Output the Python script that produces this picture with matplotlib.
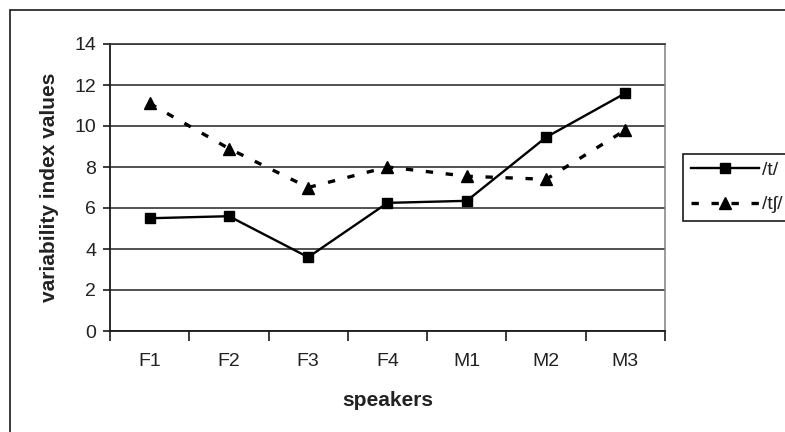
import numpy as np
import matplotlib
matplotlib.use("Agg")
import matplotlib.pyplot as plt
import matplotlib.patches as mpatches

plt.rcParams["font.family"] = ["Liberation Sans", "DejaVu Sans"]

speakers = ["F1", "F2", "F3", "F4", "M1", "M2", "M3"]
t_vals = [5.5, 5.6, 3.6, 6.25, 6.35, 9.45, 11.6]
tsh_vals = [11.1, 8.9, 7.0, 8.0, 7.55, 7.4, 9.8]
y_ticks = [0, 2, 4, 6, 8, 10, 12, 14]

TXT = "#222222"
W, H = 785, 432


def main():
    fig = plt.figure(figsize=(W / 100, H / 100), dpi=100, facecolor="white")

    # outer chart frame (runs off the right and bottom edges)
    fig.add_artist(mpatches.Rectangle(
        (10 / W, -0.05), 1.0, (H - 10) / H + 0.05,
        transform=fig.transFigure, fill=False, ec="#1a1a1a", lw=1.2))

    ax = fig.add_axes([110 / W, (H - 331) / H, 555 / W, 287 / H])
    x = np.arange(len(speakers))

    ax.plot(x, t_vals, color="black", lw=1.7, marker="s", ms=6.5,
            label="/t/", zorder=3)
    ax.plot(x, tsh_vals, color="black", lw=2.4, dashes=(2.2, 3.8),
            marker="^", ms=8, label="/t\u0283/", zorder=3)

    ax.set_xlim(-0.5, len(speakers) - 0.5)
    ax.set_ylim(0, 14)
    ax.set_yticks(y_ticks)
    ax.set_yticklabels([str(v) for v in y_ticks], fontsize=14, color=TXT)
    ax.yaxis.grid(True, color="#333333", lw=1.2)
    ax.set_axisbelow(True)

    # category boundaries get the tick marks, centres get the labels
    ax.set_xticks(np.arange(-0.5, len(speakers), 1.0))
    ax.set_xticklabels([])
    ax.set_xticks(x, minor=True)
    ax.set_xticklabels(speakers, minor=True, fontsize=14, color=TXT)
    ax.tick_params(axis="x", which="major", length=7, width=1.2,
                   color="#1a1a1a", direction="out")
    ax.tick_params(axis="x", which="minor", length=0, pad=16)
    ax.tick_params(axis="y", length=5, width=1.2, color="#1a1a1a", pad=5)

    for side in ["left", "bottom"]:
        ax.spines[side].set_color("#1a1a1a")
        ax.spines[side].set_linewidth(1.3)
    ax.spines["top"].set_color("#333333")
    ax.spines["top"].set_linewidth(1.2)
    ax.spines["right"].set_color("#808080")
    ax.spines["right"].set_linewidth(1.1)

    ax.set_ylabel("variability index values", fontsize=15,
                  fontweight="bold", color=TXT, labelpad=11)
    fig.text(388 / W, 1 - 400 / H, "speakers", fontsize=15,
             fontweight="bold", color=TXT, ha="center", va="center")

    leg = ax.legend(loc="center left", bbox_to_anchor=(683 / W, 1 - 187.5 / H),
                    bbox_transform=fig.transFigure, borderaxespad=0,
                    fontsize=14, handlelength=3.5, handletextpad=0.15,
                    borderpad=0.4, labelspacing=0.85, fancybox=False,
                    framealpha=1, edgecolor="#1a1a1a")
    leg.get_frame().set_linewidth(1.2)
    for t in leg.get_texts():
        t.set_color(TXT)

    fig.savefig("out.png", dpi=100, facecolor="white")
    plt.close(fig)


if __name__ == "__main__":
    main()
